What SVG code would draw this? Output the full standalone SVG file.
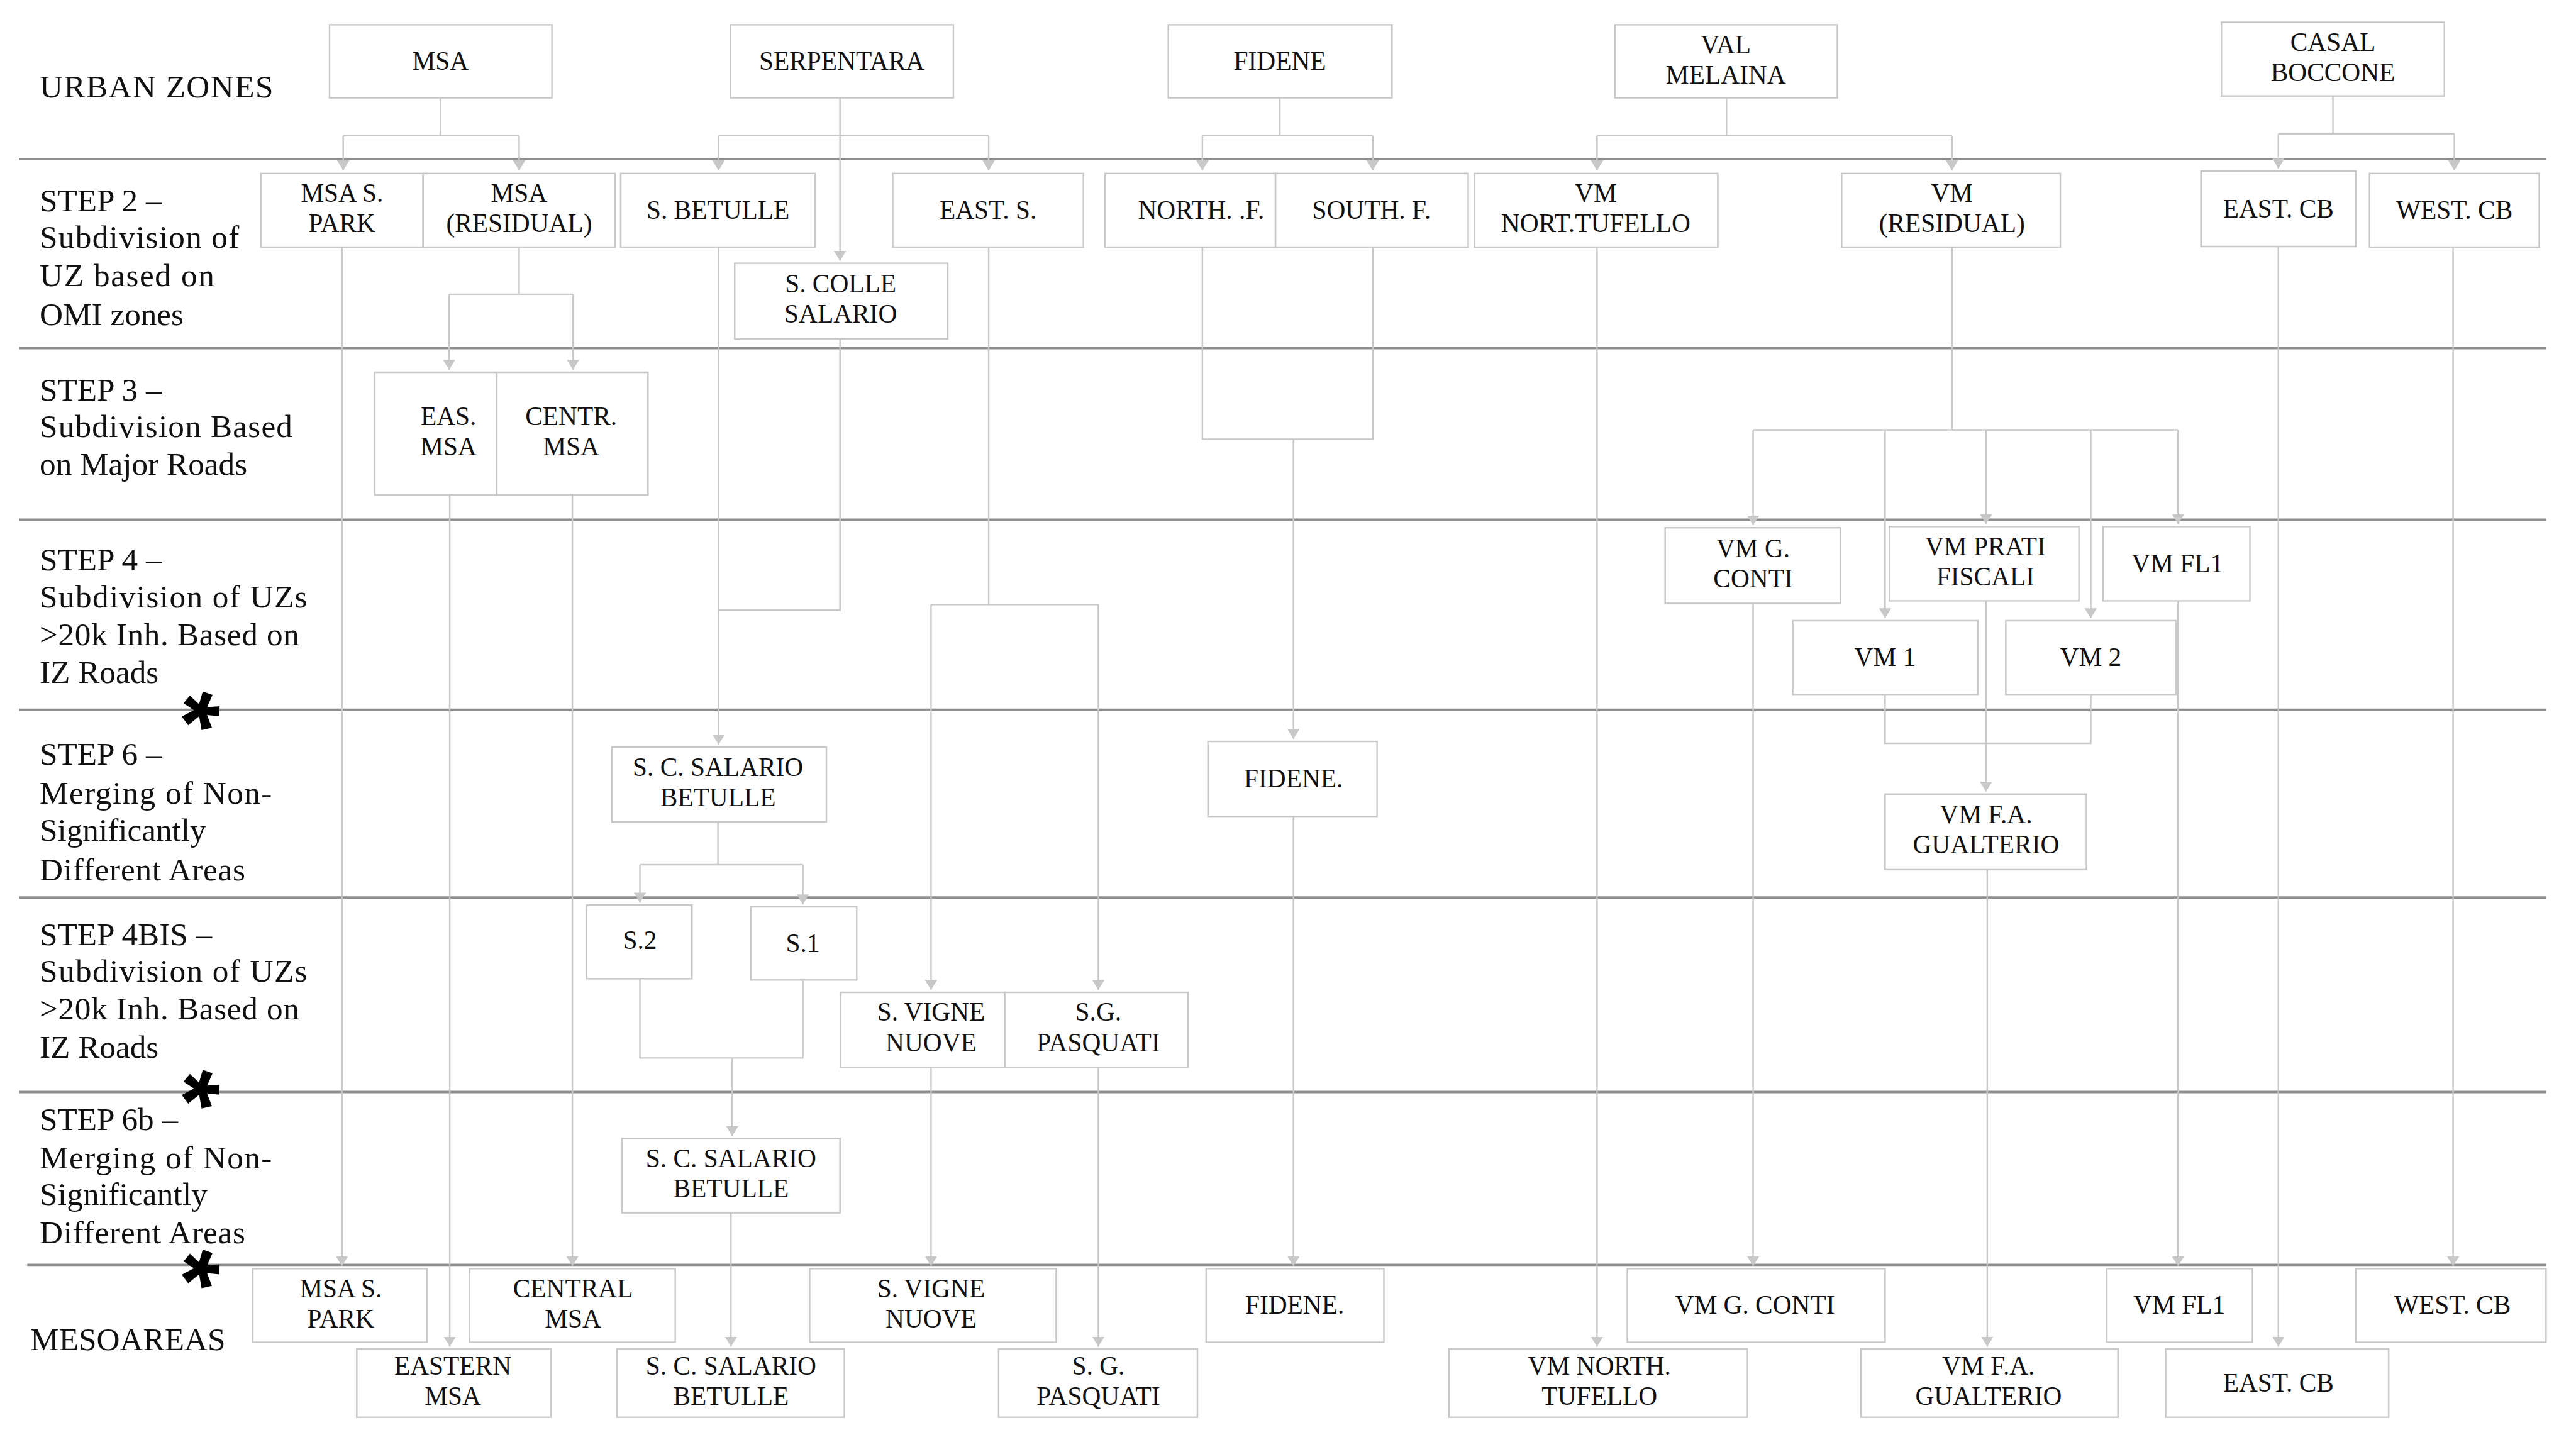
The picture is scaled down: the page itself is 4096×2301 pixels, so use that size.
<svg xmlns="http://www.w3.org/2000/svg" width="4096" height="2301" viewBox="0 0 4096 2301">
<defs>
<style>
.sep{stroke:#8e8e8e;stroke-width:4;fill:none}
.box{fill:#fff;stroke:#c8c8c8;stroke-width:2.5}
.c{stroke:#c8c8c8;stroke-width:2.5;fill:none}
.n{font-family:"Liberation Serif","Times New Roman",serif;font-size:42px;text-anchor:middle;fill:#111}
.l{font-family:"Liberation Serif","Times New Roman",serif;font-size:52px;fill:#111}
.ast{font-family:"Liberation Sans",Arial,sans-serif;font-weight:bold;font-size:160px;text-anchor:middle;fill:#000}
</style>
<marker id="arr" markerUnits="userSpaceOnUse" markerWidth="16" markerHeight="20" viewBox="0 0 16 20" refX="16" refY="10" orient="auto">
<path d="M0 0 L16 10 L0 20 Z" fill="#c8c8c8"/>
</marker>
</defs>
<rect width="4096" height="2301" fill="#fff"/>
<g transform="scale(0.985)">
<g id="separators">
<line class="sep" x1="31" y1="257" x2="4110" y2="257"/>
<line class="sep" x1="31" y1="562" x2="4110" y2="562"/>
<line class="sep" x1="31" y1="839" x2="4110" y2="839"/>
<line class="sep" x1="31" y1="1146" x2="4110" y2="1146"/>
<line class="sep" x1="31" y1="1449" x2="4110" y2="1449"/>
<line class="sep" x1="31" y1="1763" x2="4110" y2="1763"/>
<line class="sep" x1="44" y1="2042" x2="4110" y2="2042"/>
</g>
<g id="labels">
<text class="l" x="64" y="157" textLength="377" lengthAdjust="spacing">URBAN ZONES</text>
<text class="l" x="64" y="341">STEP 2 –</text>
<text class="l" x="64" y="400" textLength="322" lengthAdjust="spacing">Subdivision of</text>
<text class="l" x="64" y="462" textLength="282" lengthAdjust="spacing">UZ based on</text>
<text class="l" x="64" y="525">OMI zones</text>
<text class="l" x="64" y="647">STEP 3 –</text>
<text class="l" x="64" y="706" textLength="408" lengthAdjust="spacing">Subdivision Based</text>
<text class="l" x="64" y="766">on Major Roads</text>
<text class="l" x="64" y="921">STEP 4 –</text>
<text class="l" x="64" y="981" textLength="432" lengthAdjust="spacing">Subdivision of UZs</text>
<text class="l" x="64" y="1042" textLength="419" lengthAdjust="spacing">&gt;20k Inh. Based on</text>
<text class="l" x="64" y="1103">IZ Roads</text>
<text class="l" x="64" y="1235">STEP 6 –</text>
<text class="l" x="64" y="1297" textLength="375" lengthAdjust="spacing">Merging of Non-</text>
<text class="l" x="64" y="1357">Significantly</text>
<text class="l" x="64" y="1421" textLength="332" lengthAdjust="spacing">Different Areas</text>
<text class="l" x="64" y="1526">STEP 4BIS –</text>
<text class="l" x="64" y="1585" textLength="432" lengthAdjust="spacing">Subdivision of UZs</text>
<text class="l" x="64" y="1646" textLength="419" lengthAdjust="spacing">&gt;20k Inh. Based on</text>
<text class="l" x="64" y="1708">IZ Roads</text>
<text class="l" x="64" y="1824">STEP 6b –</text>
<text class="l" x="64" y="1886" textLength="375" lengthAdjust="spacing">Merging of Non-</text>
<text class="l" x="64" y="1945" textLength="271" lengthAdjust="spacing">Significantly</text>
<text class="l" x="64" y="2007" textLength="332" lengthAdjust="spacing">Different Areas</text>
<text class="l" x="49" y="2180">MESOAREAS</text>
<text class="ast" x="324" y="1227" transform="rotate(20 324 1149)">*</text>
<text class="ast" x="324" y="1838" transform="rotate(20 324 1760)">*</text>
<text class="ast" x="324" y="2128" transform="rotate(20 324 2050)">*</text>
</g>
<g id="connectors">
<path class="c" d="M711 158V219M554 219H838"/>
<path class="c" d="M554 219V275" marker-end="url(#arr)"/>
<path class="c" d="M838 219V275" marker-end="url(#arr)"/>
<path class="c" d="M1160 219H1596"/>
<path class="c" d="M1160 219V275" marker-end="url(#arr)"/>
<path class="c" d="M1596 219V275" marker-end="url(#arr)"/>
<path class="c" d="M1356 158V421" marker-end="url(#arr)"/>
<path class="c" d="M2066 158V219M1941 219H2216"/>
<path class="c" d="M1941 219V275" marker-end="url(#arr)"/>
<path class="c" d="M2216 219V275" marker-end="url(#arr)"/>
<path class="c" d="M2787 158V219M2578 219H3151"/>
<path class="c" d="M2578 219V275" marker-end="url(#arr)"/>
<path class="c" d="M3151 219V275" marker-end="url(#arr)"/>
<path class="c" d="M3766 155V216M3678 216H3962"/>
<path class="c" d="M3678 216V272" marker-end="url(#arr)"/>
<path class="c" d="M3962 216V275" marker-end="url(#arr)"/>
<path class="c" d="M552 399V2044" marker-end="url(#arr)"/>
<path class="c" d="M838 399V475M725 475H925"/>
<path class="c" d="M725 475V597" marker-end="url(#arr)"/>
<path class="c" d="M925 475V597" marker-end="url(#arr)"/>
<path class="c" d="M726 799V2174" marker-end="url(#arr)"/>
<path class="c" d="M924 799V2044" marker-end="url(#arr)"/>
<path class="c" d="M1356 547V985H1160"/>
<path class="c" d="M1160 399V1202" marker-end="url(#arr)"/>
<path class="c" d="M1596 399V976M1503 976H1773"/>
<path class="c" d="M1503 976V1598" marker-end="url(#arr)"/>
<path class="c" d="M1773 976V1598" marker-end="url(#arr)"/>
<path class="c" d="M1941 399V709H2216V399"/>
<path class="c" d="M2088 709V1193" marker-end="url(#arr)"/>
<path class="c" d="M2088 1318V2044" marker-end="url(#arr)"/>
<path class="c" d="M2578 399V2174" marker-end="url(#arr)"/>
<path class="c" d="M3151 399V694M2830 694H3516"/>
<path class="c" d="M2830 694V848" marker-end="url(#arr)"/>
<path class="c" d="M3206 694V846" marker-end="url(#arr)"/>
<path class="c" d="M3516 694V846" marker-end="url(#arr)"/>
<path class="c" d="M3043 694V998" marker-end="url(#arr)"/>
<path class="c" d="M3375 694V998" marker-end="url(#arr)"/>
<path class="c" d="M2830 974V2044" marker-end="url(#arr)"/>
<path class="c" d="M3206 970V1278" marker-end="url(#arr)"/>
<path class="c" d="M3043 1121V1200H3375V1121"/>
<path class="c" d="M3516 970V2044" marker-end="url(#arr)"/>
<path class="c" d="M3208 1404V2174" marker-end="url(#arr)"/>
<path class="c" d="M3678 398V2174" marker-end="url(#arr)"/>
<path class="c" d="M3960 399V2044" marker-end="url(#arr)"/>
<path class="c" d="M1159 1327V1396M1033 1396H1296"/>
<path class="c" d="M1033 1396V1457" marker-end="url(#arr)"/>
<path class="c" d="M1296 1396V1460" marker-end="url(#arr)"/>
<path class="c" d="M1033 1580V1708H1296V1582"/>
<path class="c" d="M1182 1708V1834" marker-end="url(#arr)"/>
<path class="c" d="M1503 1723V2044" marker-end="url(#arr)"/>
<path class="c" d="M1773 1723V2174" marker-end="url(#arr)"/>
<path class="c" d="M1180 1958V2174" marker-end="url(#arr)"/>
</g>
<g id="n-msa"><rect class="box" x="532" y="40" width="359" height="118"/><text class="n" x="711" y="113">MSA</text></g>
<g id="n-serpentara"><rect class="box" x="1179" y="40" width="360" height="118"/><text class="n" x="1359" y="113">SERPENTARA</text></g>
<g id="n-fidene"><rect class="box" x="1886" y="40" width="361" height="118"/><text class="n" x="2066" y="113">FIDENE</text></g>
<g id="n-valmelaina"><rect class="box" x="2607" y="40" width="359" height="118"/><text class="n" x="2786" y="86">VAL</text><text class="n" x="2786" y="135">MELAINA</text></g>
<g id="n-casalboccone"><rect class="box" x="3586" y="36" width="360" height="119"/><text class="n" x="3766" y="82">CASAL</text><text class="n" x="3766" y="131">BOCCONE</text></g>
<g id="n-msaspark"><rect class="box" x="421" y="280" width="262" height="119"/><text class="n" x="552" y="326">MSA S.</text><text class="n" x="552" y="375">PARK</text></g>
<g id="n-msaresidual"><rect class="box" x="683" y="280" width="310" height="119"/><text class="n" x="838" y="326">MSA</text><text class="n" x="838" y="375">(RESIDUAL)</text></g>
<g id="n-sbetulle"><rect class="box" x="1002" y="280" width="314" height="119"/><text class="n" x="1159" y="353">S. BETULLE</text></g>
<g id="n-scollesalario"><rect class="box" x="1186" y="425" width="344" height="122"/><text class="n" x="1357" y="472">S. COLLE</text><text class="n" x="1357" y="521">SALARIO</text></g>
<g id="n-easts"><rect class="box" x="1441" y="280" width="308" height="119"/><text class="n" x="1595" y="353">EAST. S.</text></g>
<g id="n-northf"><rect class="box" x="1784" y="280" width="275" height="119"/><text class="n" x="1939" y="353">NORTH. .F.</text></g>
<g id="n-southf"><rect class="box" x="2059" y="280" width="311" height="119"/><text class="n" x="2214" y="353">SOUTH. F.</text></g>
<g id="n-vmnorttufello"><rect class="box" x="2380" y="280" width="393" height="119"/><text class="n" x="2576" y="326">VM</text><text class="n" x="2576" y="375">NORT.TUFELLO</text></g>
<g id="n-vmresidual"><rect class="box" x="2973" y="280" width="353" height="119"/><text class="n" x="3151" y="326">VM</text><text class="n" x="3151" y="375">(RESIDUAL)</text></g>
<g id="n-eastcb"><rect class="box" x="3553" y="276" width="250" height="122"/><text class="n" x="3678" y="351">EAST. CB</text></g>
<g id="n-westcb"><rect class="box" x="3825" y="280" width="274" height="119"/><text class="n" x="3962" y="353">WEST. CB</text></g>
<g id="n-easmsa"><rect class="box" x="605" y="601" width="197" height="198"/><text class="n" x="724" y="686">EAS.</text><text class="n" x="724" y="735">MSA</text></g>
<g id="n-centrmsa"><rect class="box" x="802" y="601" width="244" height="198"/><text class="n" x="922" y="686">CENTR.</text><text class="n" x="922" y="735">MSA</text></g>
<g id="n-vmgconti"><rect class="box" x="2688" y="852" width="283" height="122"/><text class="n" x="2830" y="899">VM G.</text><text class="n" x="2830" y="948">CONTI</text></g>
<g id="n-vmpratifiscali"><rect class="box" x="3050" y="850" width="306" height="120"/><text class="n" x="3205" y="896">VM PRATI</text><text class="n" x="3205" y="945">FISCALI</text></g>
<g id="n-vmfl1"><rect class="box" x="3395" y="850" width="237" height="120"/><text class="n" x="3515" y="924">VM FL1</text></g>
<g id="n-vm1"><rect class="box" x="2894" y="1002" width="299" height="119"/><text class="n" x="3043" y="1075">VM 1</text></g>
<g id="n-vm2"><rect class="box" x="3238" y="1002" width="275" height="119"/><text class="n" x="3375" y="1075">VM 2</text></g>
<g id="n-scsalariobetulle6"><rect class="box" x="988" y="1206" width="346" height="121"/><text class="n" x="1159" y="1253">S. C. SALARIO</text><text class="n" x="1159" y="1302">BETULLE</text></g>
<g id="n-fidene6"><rect class="box" x="1950" y="1197" width="273" height="121"/><text class="n" x="2088" y="1271">FIDENE.</text></g>
<g id="n-vmfagualterio6"><rect class="box" x="3043" y="1282" width="325" height="122"/><text class="n" x="3206" y="1329">VM F.A.</text><text class="n" x="3206" y="1378">GUALTERIO</text></g>
<g id="n-s2"><rect class="box" x="947" y="1461" width="170" height="119"/><text class="n" x="1033" y="1532">S.2</text></g>
<g id="n-s1"><rect class="box" x="1212" y="1464" width="171" height="118"/><text class="n" x="1296" y="1537">S.1</text></g>
<g id="n-svignenuove4"><rect class="box" x="1357" y="1602" width="265" height="121"/><text class="n" x="1503" y="1648">S. VIGNE</text><text class="n" x="1503" y="1697">NUOVE</text></g>
<g id="n-sgpasquati4"><rect class="box" x="1622" y="1602" width="296" height="121"/><text class="n" x="1773" y="1648">S.G.</text><text class="n" x="1773" y="1697">PASQUATI</text></g>
<g id="n-scsalariobetulle6b"><rect class="box" x="1004" y="1838" width="352" height="120"/><text class="n" x="1180" y="1884">S. C. SALARIO</text><text class="n" x="1180" y="1933">BETULLE</text></g>
<g id="m-msaspark"><rect class="box" x="408" y="2048" width="281" height="119"/><text class="n" x="550" y="2094">MSA S.</text><text class="n" x="550" y="2143">PARK</text></g>
<g id="m-centralmsa"><rect class="box" x="758" y="2048" width="332" height="119"/><text class="n" x="925" y="2094">CENTRAL</text><text class="n" x="925" y="2143">MSA</text></g>
<g id="m-easternmsa"><rect class="box" x="576" y="2178" width="313" height="110"/><text class="n" x="731" y="2219">EASTERN</text><text class="n" x="731" y="2268">MSA</text></g>
<g id="m-scsalariobetulle"><rect class="box" x="996" y="2178" width="367" height="110"/><text class="n" x="1180" y="2219">S. C. SALARIO</text><text class="n" x="1180" y="2268">BETULLE</text></g>
<g id="m-svignenuove"><rect class="box" x="1307" y="2048" width="398" height="119"/><text class="n" x="1503" y="2094">S. VIGNE</text><text class="n" x="1503" y="2143">NUOVE</text></g>
<g id="m-sgpasquati"><rect class="box" x="1612" y="2178" width="321" height="110"/><text class="n" x="1773" y="2219">S. G.</text><text class="n" x="1773" y="2268">PASQUATI</text></g>
<g id="m-fidene"><rect class="box" x="1947" y="2048" width="287" height="119"/><text class="n" x="2090" y="2121">FIDENE.</text></g>
<g id="m-vmnorthtufello"><rect class="box" x="2339" y="2178" width="482" height="110"/><text class="n" x="2582" y="2219">VM NORTH.</text><text class="n" x="2582" y="2268">TUFELLO</text></g>
<g id="m-vmgconti"><rect class="box" x="2627" y="2048" width="416" height="119"/><text class="n" x="2833" y="2121">VM G. CONTI</text></g>
<g id="m-vmfagualterio"><rect class="box" x="3004" y="2178" width="415" height="110"/><text class="n" x="3210" y="2219">VM F.A.</text><text class="n" x="3210" y="2268">GUALTERIO</text></g>
<g id="m-vmfl1"><rect class="box" x="3401" y="2048" width="235" height="119"/><text class="n" x="3518" y="2121">VM FL1</text></g>
<g id="m-eastcb"><rect class="box" x="3496" y="2178" width="360" height="110"/><text class="n" x="3678" y="2247">EAST. CB</text></g>
<g id="m-westcb"><rect class="box" x="3803" y="2048" width="307" height="119"/><text class="n" x="3959" y="2121">WEST. CB</text></g>
</g>
</svg>
